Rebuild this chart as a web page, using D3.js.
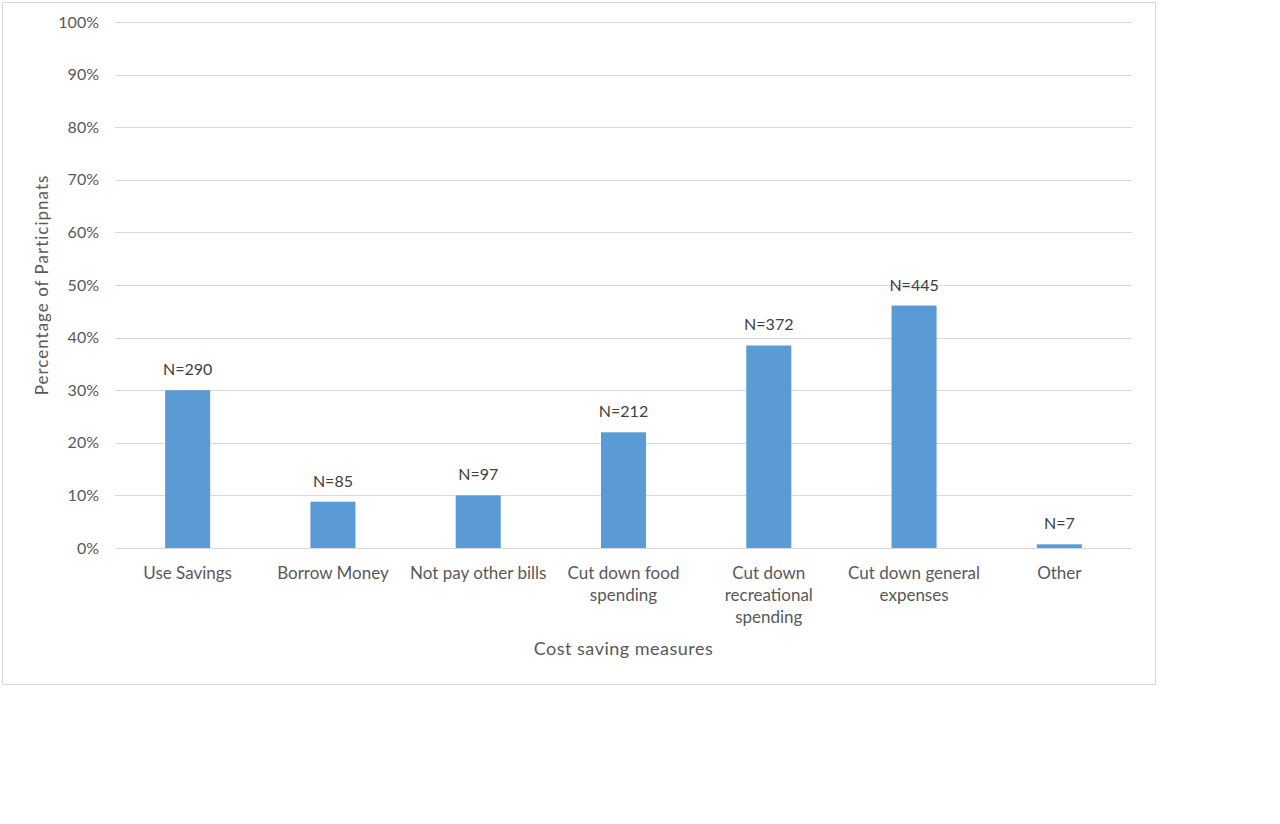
<!DOCTYPE html>
<html>
<head>
<meta charset="utf-8">
<script src="https://cdn.jsdelivr.net/npm/d3@7"></script>
<style>
  body { margin: 0; background: #fff; }
  svg { display: block; }
</style>
</head>
<body>
<svg id="chart" width="1280" height="824"></svg>
<script>
const categories = ["Use Savings", "Borrow Money", "Not pay other bills", "Cut down food spending",
  "Cut down recreational spending", "Cut down general expenses", "Other"];
const percentages = [30.0, 8.8, 10.0, 22.0, 38.5, 46.1, 0.7];
const counts = [290, 85, 97, 212, 372, 445, 7];
const yTicks = [0, 10, 20, 30, 40, 50, 60, 70, 80, 90, 100];

const width = 1280,
  height = 824,
  margin = { left: 115, top: 22, right: 148, bottom: 276 };

const svg = d3.select("#chart");
const font = "Lato, 'Open Sans', sans-serif";

// chart frame
svg.append("rect")
  .attr("x", 2.5).attr("y", 2.5)
  .attr("width", 1153).attr("height", 682)
  .attr("fill", "#fff")
  .attr("stroke", "#d9d9d9");

const x = d3.scaleBand()
  .domain(categories)
  .range([margin.left, width - margin.right])
  .paddingInner(0.69)
  .paddingOuter(0.345);

const y = d3.scaleLinear()
  .domain([0, 100])
  .range([height - margin.bottom, margin.top]);

// gridlines
svg.append("g")
  .attr("stroke", "#d9d9d9")
  .attr("stroke-width", 1)
  .selectAll("line")
  .data(yTicks)
  .join("line")
  .attr("x1", margin.left)
  .attr("x2", width - margin.right)
  .attr("y1", d => Math.round(y(d)) + 0.5)
  .attr("y2", d => Math.round(y(d)) + 0.5);

// y axis labels
const yAxis = g => g.attr("transform", `translate(${margin.left},0)`)
  .call(d3.axisLeft(y).tickValues(yTicks).tickSize(0).tickPadding(16).tickFormat(d => d + "%"))
  .call(g => g.select(".domain").remove())
  .call(g => g.selectAll("text")
    .attr("fill", "#595959")
    .attr("font-family", font)
    .attr("font-size", 16));

svg.append("g").call(yAxis);

// bars
svg.append("g")
  .attr("fill", "#5b9bd5")
  .selectAll("rect")
  .data(categories)
  .join("rect")
  .attr("x", d => x(d))
  .attr("width", x.bandwidth())
  .attr("y", (d, i) => y(percentages[i]))
  .attr("height", (d, i) => y(0) - y(percentages[i]));

// data labels
svg.append("g")
  .attr("font-family", font)
  .attr("font-size", 16)
  .attr("fill", "#404040")
  .attr("text-anchor", "middle")
  .selectAll("text")
  .data(categories)
  .join("text")
  .attr("x", d => x(d) + x.bandwidth() / 2)
  .attr("y", (d, i) => y(percentages[i]) - 15)
  .text((d, i) => "N=" + counts[i]);

// category labels, wrapped
const wrapWidth = 142;
const catG = svg.append("g")
  .attr("font-family", font)
  .attr("font-size", 17)
  .attr("fill", "#595959")
  .attr("text-anchor", "middle");

categories.forEach(cat => {
  const cx = x(cat) + x.bandwidth() / 2;
  const t = catG.append("text")
    .attr("x", cx)
    .attr("y", y(0) + 31);
  let line = [];
  let tspan = t.append("tspan").attr("x", cx).attr("dy", 0);
  cat.split(" ").forEach(w => {
    line.push(w);
    tspan.text(line.join(" "));
    if (tspan.node().getComputedTextLength() > wrapWidth && line.length > 1) {
      line.pop();
      tspan.text(line.join(" "));
      line = [w];
      tspan = t.append("tspan")
        .attr("x", cx)
        .attr("dy", 22)
        .text(w);
    }
  });
});

// axis titles
svg.append("text")
  .attr("x", (margin.left + width - margin.right) / 2)
  .attr("y", 655)
  .attr("text-anchor", "middle")
  .attr("font-family", font)
  .attr("font-size", 18)
  .attr("letter-spacing", 0.5)
  .attr("fill", "#595959")
  .text("Cost saving measures");

svg.append("text")
  .attr("transform", `translate(48, ${(y(0) + y(100)) / 2}) rotate(-90)`)
  .attr("text-anchor", "middle")
  .attr("font-family", font)
  .attr("font-size", 17)
  .attr("letter-spacing", 1)
  .attr("fill", "#595959")
  .text("Percentage of Participnats");
</script>
</body>
</html>
